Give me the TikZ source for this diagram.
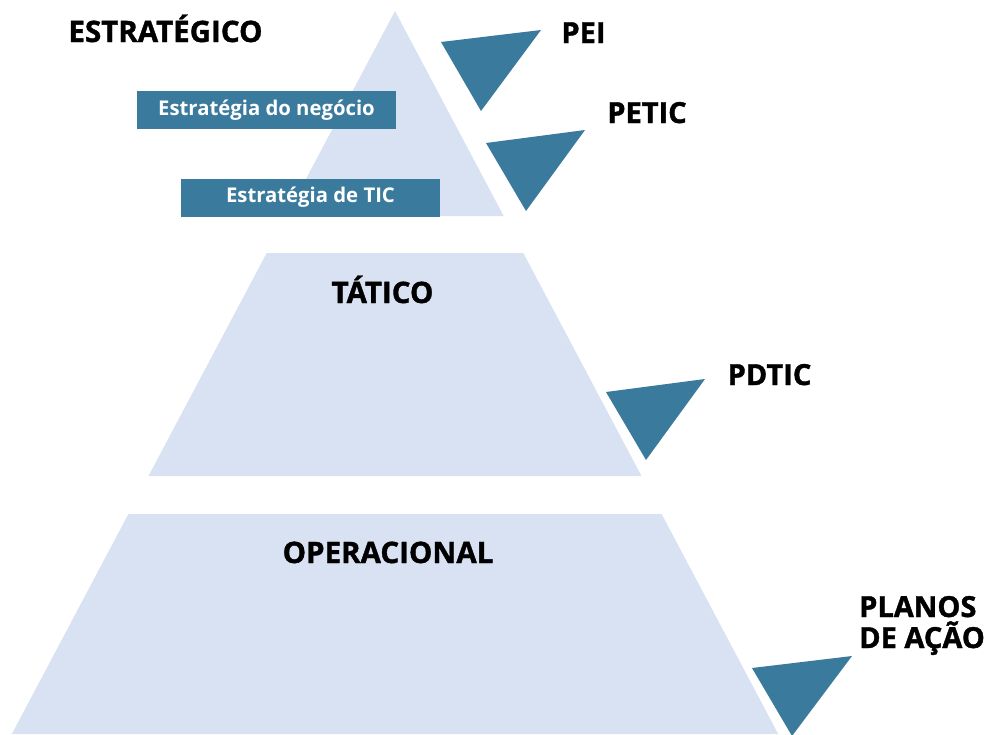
\documentclass[tikz,border=0pt]{standalone}
\usepackage{fontspec}
\setmainfont{Open Sans}
\newfontfamily\heavy{Open Sans}[BoldFeatures={FakeBold=1.3}]
\definecolor{pyr}{HTML}{D9E2F3}
\definecolor{tri}{HTML}{3A7A9D}
\tikzset{
  band/.style={fill=pyr},
  mark tri/.style={fill=tri},
  lvl/.style={inner sep=0pt, anchor=base, font=\heavy\bfseries\fontsize{29.5}{29.5}\selectfont, text=black},
  doc/.style={inner sep=0pt, anchor=base, font=\heavy\bfseries\fontsize{29}{29}\selectfont, text=black},
  doclft/.style={doc, anchor=base west, text height=21pt, text depth=0pt},
  stratbox/.style={fill=tri, text=white, inner sep=0pt, minimum width=259pt, minimum height=38pt, font=\bfseries\fontsize{20.3}{20.3}\selectfont}
}
\begin{document}
\begin{tikzpicture}[x=1pt,y=-1pt]
\useasboundingbox (0,0) rectangle (987,734);
% pyramid bands
\fill[band] (395,11) -- (503.7,216) -- (286.3,216) -- cycle;
\fill[band] (266.7,253) -- (523.3,253) -- (641.5,476) -- (148.5,476) -- cycle;
\fill[band] (128.4,514) -- (661.6,514) -- (778.2,734) -- (11.8,734) -- cycle;
% dark triangles
\fill[mark tri] (441,42) -- (541,30) -- (481,111) -- cycle;
\fill[mark tri] (486,143) -- (585,130) -- (526,211) -- cycle;
\fill[mark tri] (606,392) -- (705,379) -- (646,460) -- cycle;
\fill[mark tri] (752,668) -- (852,656) -- (792,736) -- cycle;
% boxes
\node[stratbox] (negocio) at (266.5,110) {Estratégia do negócio};
\node[stratbox] (tic) at (310.5,197.5) {Estratégia de TIC};
% level labels
\node[lvl] (estr) at (165.5,42) {ESTRATÉGICO};
\node[lvl] (tatico) at (382.5,303) {TÁTICO};
\node[lvl] (oper) at (388,563) {OPERACIONAL};
% document labels
\node[doc] (pei) at (583.5,43) {PEI};
\node[doc] (petic) at (647,123) {PETIC};
\node[doc] (pdtic) at (769.5,385) {PDTIC};
\node[doclft] (planos1) at (859,617) {PLANOS};
\node[doclft] (planos2) at (859,648) {DE AÇÃO};
\end{tikzpicture}
\end{document}
